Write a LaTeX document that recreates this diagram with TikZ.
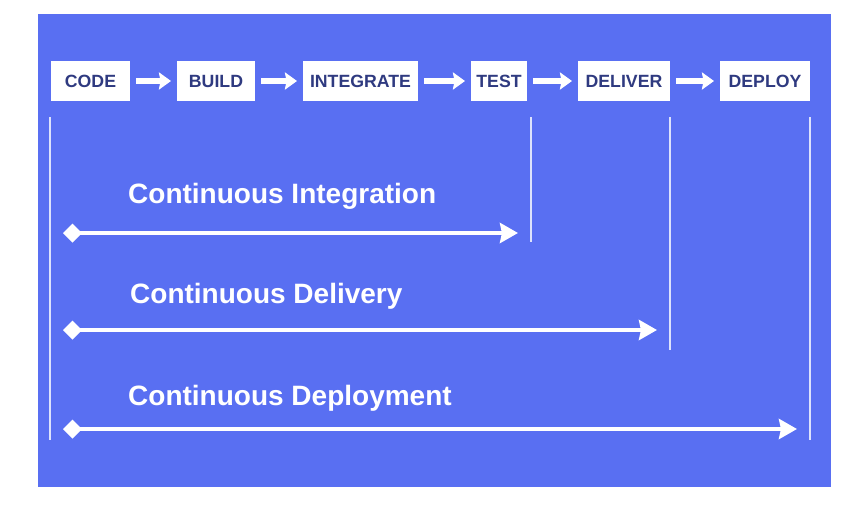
\documentclass[tikz,border=0pt]{standalone}
\usepackage{fontspec}
\setmainfont{Liberation Sans}
\usetikzlibrary{arrows.meta}

\definecolor{panelblue}{HTML}{596FF2}
\definecolor{stagetext}{HTML}{2F3A80}

\begin{document}
\begin{tikzpicture}[x=1pt,y=-1pt,
  stage/.style={fill=white, text=stagetext, font=\fontsize{17.7}{20}\selectfont\bfseries, minimum height=40pt, inner sep=2pt, outer sep=0pt},
  flow/.style={white, line width=5.5pt, shorten <=6pt, shorten >=6pt, -{Stealth[length=12pt,width=17pt,inset=1.5pt]}},
  span/.style={white, line width=4pt, {Diamond[length=19pt,width=19pt]}-{Stealth[length=18pt,width=20pt,inset=2pt]}},
  mark line/.style={white, opacity=0.8, line width=1.5pt},
  phase/.style={white, anchor=west, inner sep=0pt, font=\fontsize{28}{32}\selectfont\bfseries}]

\useasboundingbox (0,0) rectangle (860,511);
\fill[panelblue] (38,14) rectangle (831,487);

% stages
\node[stage, minimum width=79pt] (code) at (90.5,81) {CODE};
\node[stage, minimum width=78pt] (build) at (216,81) {BUILD};
\node[stage, minimum width=115pt] (integrate) at (360.5,81) {INTEGRATE};
\node[stage, minimum width=56pt] (test) at (499,81) {TEST};
\node[stage, minimum width=92pt] (deliver) at (624,81) {DELIVER};
\node[stage, minimum width=90pt] (deploy) at (765,81) {DEPLOY};

\draw[flow] (code) -- (build);
\draw[flow] (build) -- (integrate);
\draw[flow] (integrate) -- (test);
\draw[flow] (test) -- (deliver);
\draw[flow] (deliver) -- (deploy);

% marker lines
\coordinate (start top) at (50,117);
\coordinate (start bottom) at (50,440);
\coordinate (test top) at (531,117);
\coordinate (test bottom) at (531,242);
\coordinate (deliver top) at (670,117);
\coordinate (deliver bottom) at (670,350);
\coordinate (deploy top) at (810,117);
\coordinate (deploy bottom) at (810,440);
\draw[mark line] (start top) -- (start bottom);
\draw[mark line] (test top) -- (test bottom);
\draw[mark line] (deliver top) -- (deliver bottom);
\draw[mark line] (deploy top) -- (deploy bottom);

% phases
\node[phase] (ci) at (128,196) {Continuous Integration};
\node[phase] (cd) at (130,296) {Continuous Delivery};
\node[phase] (cdep) at (128,398) {Continuous Deployment};

\coordinate (ci from) at (63,233);
\coordinate (ci to) at (518,233);
\coordinate (cd from) at (63,330);
\coordinate (cd to) at (657,330);
\coordinate (cdep from) at (63,429);
\coordinate (cdep to) at (797,429);
\draw[span] (ci from) -- (ci to);
\draw[span] (cd from) -- (cd to);
\draw[span] (cdep from) -- (cdep to);
\end{tikzpicture}
\end{document}
